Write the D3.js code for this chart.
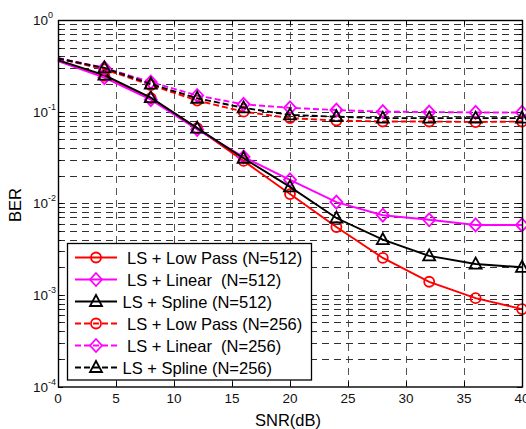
<!DOCTYPE html>
<html>
<head>
<meta charset="utf-8">
<script src="https://cdn.jsdelivr.net/npm/d3@7"></script>
<style>
  body { margin: 0; background: #fff; }
  svg { display: block; font-family: "Liberation Sans", Arial, sans-serif; }
</style>
</head>
<body>
<svg id="chart" width="526" height="429"></svg>
<script>
const snr = [0, 4, 8, 12, 16, 20, 24, 28, 32, 36, 40];
const lowPass512 = [0.36, 0.245, 0.14, 0.066, 0.029, 0.0126, 0.0055, 0.00253, 0.00139, 0.00092, 0.0007];
const linear512 = [0.355, 0.235, 0.135, 0.064, 0.032, 0.018, 0.0103, 0.0074, 0.0066, 0.0058, 0.0058];
const spline512 = [0.365, 0.25, 0.142, 0.066, 0.031, 0.0151, 0.0069, 0.0040, 0.00266, 0.00217, 0.0020];
const lowPass256 = [0.38, 0.29, 0.195, 0.132, 0.10, 0.085, 0.08, 0.078, 0.078, 0.077, 0.078];
const linear256 = [0.385, 0.30, 0.21, 0.15, 0.12, 0.11, 0.104, 0.10, 0.099, 0.098, 0.098];
const spline256 = [0.38, 0.30, 0.20, 0.14, 0.11, 0.092, 0.088, 0.085, 0.085, 0.085, 0.085];

const xTicks = [0, 5, 10, 15, 20, 25, 30, 35, 40];
const yExponents = [-4, -3, -2, -1, 0];
const legendLabels = [
  " LS + Low Pass (N=512)",
  " LS + Linear  (N=512)",
  "LS + Spline (N=512)",
  " LS + Low Pass (N=256)",
  " LS + Linear  (N=256)",
  "LS + Spline (N=256)"
];

// styling per series (same order as legend)
const series = [
  { values: lowPass512, color: "#ff0000", dash: null, marker: "circle" },
  { values: linear512, color: "#ff00ff", dash: null, marker: "diamond" },
  { values: spline512, color: "#000000", dash: null, marker: "triangle" },
  { values: lowPass256, color: "#ff0000", dash: "6,3", marker: "circle" },
  { values: linear256, color: "#ff00ff", dash: "6,3", marker: "diamond" },
  { values: spline256, color: "#000000", dash: "6,3", marker: "triangle" }
];

const plotL = 58, plotR = 522, plotT = 20, plotB = 386.5;

const x = d3.scaleLinear().domain([0, 40]).range([plotL, plotR]);
const y = d3.scaleLog().domain([1e-4, 1]).range([plotB, plotT]);

const svg = d3.select("#chart");
svg.append("rect").attr("width", 526).attr("height", 429).attr("fill", "#fff");

// grid
const grid = svg.append("g")
  .attr("stroke", "#303030")
  .attr("stroke-width", 1)
  .attr("stroke-dasharray", "7,5");

grid.selectAll("line.v")
  .data(xTicks.slice(1, -1))
  .join("line")
  .attr("stroke", "#555")
  .attr("x1", d => Math.round(x(d)) + 0.5)
  .attr("x2", d => Math.round(x(d)) + 0.5)
  .attr("y1", plotT)
  .attr("y2", plotB);

const minorY = [];
for (let e = -4; e < 0; e++) {
  for (let m = 1; m < 10; m++) {
    const v = m * Math.pow(10, e);
    if (v > 1e-4) minorY.push(v);
  }
}
grid.selectAll("line.h")
  .data(minorY)
  .join("line")
  .attr("x1", plotL)
  .attr("x2", plotR)
  .attr("y1", d => Math.round(y(d)) + 0.5)
  .attr("y2", d => Math.round(y(d)) + 0.5);

// tick marks (inward, both sides)
const ticks = svg.append("g").attr("stroke", "#000").attr("stroke-width", 1);
xTicks.forEach(t => {
  const px = Math.round(x(t)) + 0.5;
  ticks.append("line").attr("x1", px).attr("x2", px).attr("y1", plotB).attr("y2", plotB - 5);
  ticks.append("line").attr("x1", px).attr("x2", px).attr("y1", plotT).attr("y2", plotT + 5);
});
minorY.concat([1e-4, 1]).forEach(v => {
  const py = Math.round(y(v)) + 0.5;
  const major = Math.abs(Math.log10(v) - Math.round(Math.log10(v))) < 1e-9;
  const len = major ? 5 : 3;
  ticks.append("line").attr("x1", plotL).attr("x2", plotL + len).attr("y1", py).attr("y2", py);
  ticks.append("line").attr("x1", plotR).attr("x2", plotR - len).attr("y1", py).attr("y2", py);
});

// series
const line = d3.line().x((d, i) => x(snr[i])).y(d => y(d));

function drawMarker(g, type, cx, cy, color) {
  if (type === "circle") {
    g.append("circle").attr("cx", cx).attr("cy", cy).attr("r", 5)
      .attr("fill", "none").attr("stroke", color).attr("stroke-width", 1.8);
  } else if (type === "diamond") {
    g.append("path")
      .attr("d", `M${cx},${cy - 6.5}L${cx + 6},${cy}L${cx},${cy + 6.5}L${cx - 6},${cy}Z`)
      .attr("fill", "none").attr("stroke", color).attr("stroke-width", 1.8);
  } else {
    g.append("path")
      .attr("d", `M${cx},${cy - 6.5}L${cx + 6},${cy + 4.5}L${cx - 6},${cy + 4.5}Z`)
      .attr("fill", "none").attr("stroke", color).attr("stroke-width", 1.8);
  }
}

const plot = svg.append("g");
series.forEach(s => {
  const g = plot.append("g");
  g.append("path")
    .datum(s.values)
    .attr("d", line)
    .attr("fill", "none")
    .attr("stroke", s.color)
    .attr("stroke-width", 1.9)
    .attr("stroke-dasharray", s.dash);
  s.values.forEach((v, i) => {
    if (i === 0) return;
    drawMarker(g, s.marker, x(snr[i]), y(v), s.color);
  });
});

// axes box
svg.append("rect")
  .attr("x", plotL + 0.5).attr("y", plotT + 0.5)
  .attr("width", plotR - plotL).attr("height", plotB - plotT)
  .attr("fill", "none").attr("stroke", "#000").attr("stroke-width", 1.4);

// x tick labels
svg.append("g").selectAll("text")
  .data(xTicks)
  .join("text")
  .attr("x", d => x(d))
  .attr("y", 403)
  .attr("text-anchor", "middle")
  .attr("font-size", 13.5)
  .attr("fill", "#111")
  .text(d => d);

// y tick labels 10^n
const yl = svg.append("g").attr("fill", "#111");
yExponents.forEach(e => {
  const t = yl.append("text")
    .attr("x", 33)
    .attr("y", y(Math.pow(10, e)) + 5)
    .attr("font-size", 13.5);
  t.append("tspan").text("10");
  t.append("tspan").attr("dy", -7).attr("font-size", 9).text(e === 0 ? "0" : "-" + Math.abs(e));
});

// axis titles
svg.append("text")
  .attr("x", 288).attr("y", 426)
  .attr("text-anchor", "middle")
  .attr("font-size", 16.5)
  .attr("fill", "#000")
  .text("SNR(dB)");
svg.append("text")
  .attr("transform", "translate(21,205) rotate(-90)")
  .attr("text-anchor", "middle")
  .attr("font-size", 16.5)
  .attr("fill", "#000")
  .text("BER");

// legend
const lg = svg.append("g");
lg.append("rect")
  .attr("x", 67.5).attr("y", 243.5)
  .attr("width", 244).attr("height", 136.5)
  .attr("fill", "#fff").attr("stroke", "#000").attr("stroke-width", 1.3);
series.forEach((s, i) => {
  const cy = 257.5 + i * 22;
  lg.append("line")
    .attr("x1", 75).attr("x2", 117).attr("y1", cy).attr("y2", cy)
    .attr("stroke", s.color).attr("stroke-width", 1.9)
    .attr("stroke-dasharray", s.dash);
  drawMarker(lg, s.marker, 96, cy, s.color);
  lg.append("text")
    .attr("x", 122.5).attr("y", cy + 6)
    .attr("font-size", 16.5)
    .attr("fill", "#000")
    .style("white-space", "pre")
    .text(legendLabels[i]);
});
</script>
</body>
</html>
